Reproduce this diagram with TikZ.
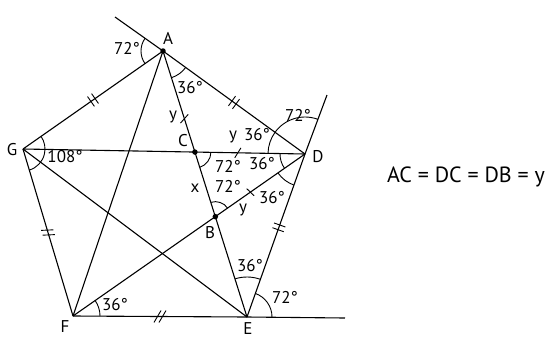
\documentclass[tikz,border=0pt]{standalone}
\usepackage{fontspec}
\setmainfont{PT Sans}
\usetikzlibrary{angles,decorations.markings}

\begin{document}
\begin{tikzpicture}[
x=1pt, y=-1pt,
line width=1.1pt,
pt/.style={circle, fill, inner sep=0pt, minimum size=5.5pt},
lbl/.style={font=\fontsize{17}{17}\selectfont, inner sep=0pt},
ang/.style={draw, line width=0.9pt, angle radius=#1},
onetick/.style 2 args={postaction=decorate, decoration={markings, mark=at position #1 with {\draw[line width=0.9pt] (-#2pt,-5pt) -- (#2pt,5pt);}}},
twotick/.style 2 args={postaction=decorate, decoration={markings, mark=at position #1 with {\draw[line width=0.9pt] (-#2pt-2.5pt,-6pt) -- (#2pt-2.5pt,6pt) (-#2pt+2.5pt,-6pt) -- (#2pt+2.5pt,6pt);}}}
]
\useasboundingbox (0,0) rectangle (555,341);

% pentagon corners
\coordinate (A) at (163,51);
\coordinate (D) at (305,154);
\coordinate (E) at (247,317);
\coordinate (F) at (73,316);
\coordinate (G) at (23,149);
\coordinate (C) at (intersection of A--E and G--D);
\coordinate (B) at (intersection of A--E and F--D);
% ends of the extended sides
\coordinate (xa) at (115,17);
\coordinate (xd) at (327,95);
\coordinate (xe) at (345,318);

% sides
\draw[twotick={.5}{0}] (G) -- (A);
\draw[twotick={.5}{0}] (A) -- (D);
\draw[twotick={.45}{0}] (D) -- (E);
\draw[twotick={.5}{3.5}] (F) -- (E);
\draw[twotick={.5}{1.5}] (G) -- (F);
\draw (A) -- (xa);
\draw (D) -- (xd);
\draw (E) -- (xe);

% diagonals
\draw (G) -- (D);
\draw (A) -- (E);
\draw (A) -- (F);
\draw (G) -- (E);
\draw (F) -- (D);
\path[onetick={.67}{-3}] (A) -- (C);
\path[onetick={.39}{3}] (C) -- (D);
\path[onetick={.61}{-1}] (D) -- (B);

% angles
\pic[ang=22pt] {angle=xa--A--G};
\pic[ang=28pt] {angle=E--A--D};
\pic[ang=37pt] {angle=xd--D--A};
\pic[ang=37pt] {angle=A--D--G};
\pic[ang=25pt] {angle=G--D--F};
\pic[ang=33pt] {angle=F--D--E};
\pic[ang=16pt] {angle=B--C--D};
\pic[ang=15pt] {angle=D--B--C};
\pic[ang=22pt] {angle=F--G--A};
\pic[ang=40pt] {angle=D--E--A};
\pic[ang=25pt] {angle=xe--E--D};
\pic[ang=27pt] {angle=E--F--D};

\node[pt] (dotA) at (A) {};
\node[pt] (dotC) at (C) {};
\node[pt] (dotB) at (B) {};

% letters
\node[lbl] (lA) at (168,38) {A};
\node[lbl] (lG) at (12,150) {G};
\node[lbl] (lD) at (318,157) {D};
\node[lbl] (lE) at (248,329) {E};
\node[lbl] (lF) at (65,327) {F};
\node[lbl] (lC) at (183,141) {C};
\node[lbl] (lB) at (210,233) {B};
\node[lbl] (lx) at (195,188) {x};
\node[lbl] (ly1) at (173,117) {y};
\node[lbl] (ly2) at (233,137) {y};
\node[lbl] (ly3) at (243,210) {y};

% angle values
\node[lbl] (aA1) at (127,48) {72°};
\node[lbl] (aA2) at (190,88) {36°};
\node[lbl] (aD1) at (298,115) {72°};
\node[lbl] (aD2) at (257,135) {36°};
\node[lbl] (aD3) at (262,164) {36°};
\node[lbl] (aD4) at (272,198) {36°};
\node[lbl] (aC) at (228,166) {72°};
\node[lbl] (aB) at (228,186) {72°};
\node[lbl] (aG) at (65,157) {108°};
\node[lbl] (aE1) at (250,266) {36°};
\node[lbl] (aE2) at (285,297) {72°};
\node[lbl] (aF) at (115,305) {36°};

\node[font=\fontsize{22}{22}\selectfont, inner sep=0pt] (eq) at (466,177) {AC = DC = DB = y};
\end{tikzpicture}
\end{document}
